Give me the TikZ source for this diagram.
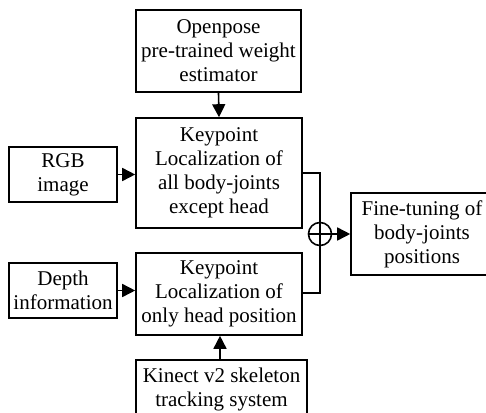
\documentclass[tikz,border=0pt]{standalone}
\usepackage{fontspec}
\setmainfont{Liberation Serif}
\usetikzlibrary{arrows.meta}
\begin{document}
\begin{tikzpicture}[x=1pt,y=-1pt,
  blk/.style={draw,line width=1.6pt,align=center,inner sep=0pt,
    font=\fontsize{21}{24}\selectfont},
  arr/.style={line width=1.6pt,-{Triangle[length=13pt,width=13pt]}},
  ln/.style={line width=1.6pt}]
\useasboundingbox (0,0) rectangle (486,412);
\clip (0,0) rectangle (486,412);
\node[blk,minimum width=165pt,minimum height=82pt] (open) at (218.5,51) {Openpose\\pre-trained weight\\estimator};
\node[blk,minimum width=166pt,minimum height=110pt] (kp1) at (219,173) {Keypoint\\Localization of\\all body-joints\\except head};
\node[blk,minimum width=108pt,minimum height=55pt] (rgb) at (63,174.5) {RGB\\image};
\node[blk,minimum width=166pt,minimum height=82pt] (kp2) at (219,294) {Keypoint\\Localization of\\only head position};
\node[blk,minimum width=108pt,minimum height=55pt] (depth) at (63,290.5) {Depth\\information};
\node[blk,minimum width=171pt,minimum height=58pt] (kin) at (221.5,389) {Kinect v2 skeleton\\tracking system};
\node[blk,minimum width=142pt,minimum height=82pt] (fine) at (422,234) {Fine-tuning of\\body-joints\\positions};
\node[draw,line width=1.6pt,circle,minimum size=23pt,inner sep=0pt] (sum) at (320,234) {};
\draw[ln] (sum.north) -- (sum.south) (sum.west) -- (sum.east);
\draw[arr] (open.south) -- (kp1.north);
\draw[arr] (rgb.east) -- (rgb.east -| kp1.west);
\draw[arr] (depth.east) -- (depth.east -| kp2.west);
\draw[arr] (kin.north -| 220,0) -- (kp2.south -| 220,0);
\draw[ln] (kp1.east |- 0,173) -| (sum.north);
\draw[ln] (kp2.east |- 0,293) -| (sum.south);
\draw[arr] (sum.east) -- (fine.west);
\end{tikzpicture}
\end{document}
